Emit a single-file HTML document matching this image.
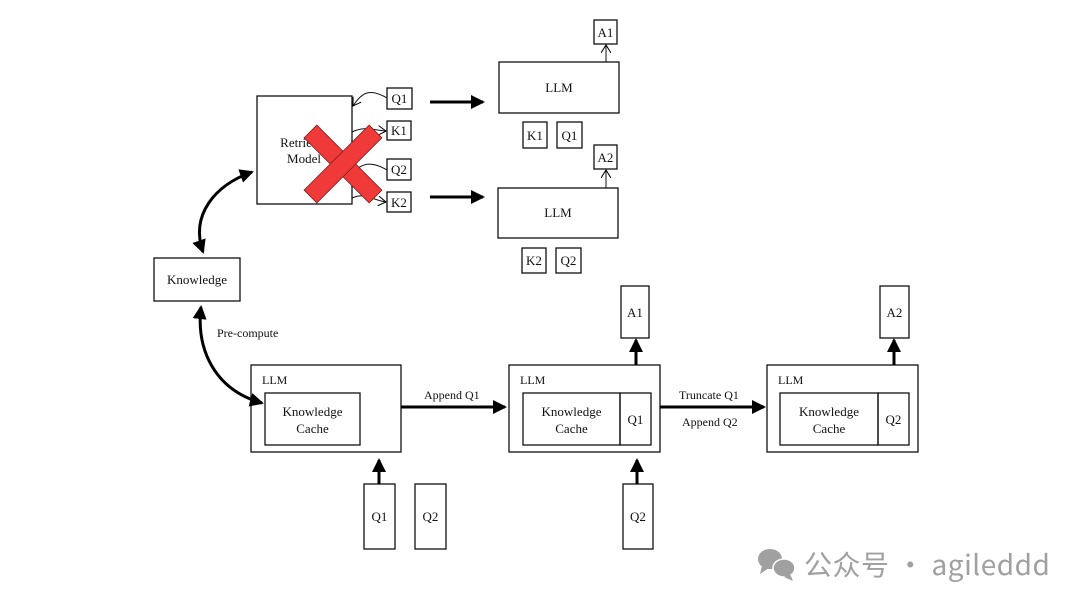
<!DOCTYPE html>
<html><head><meta charset="utf-8"><style>
html,body{margin:0;padding:0;background:#fff;}
svg{display:block;}
text{font-family:"Liberation Serif",serif;fill:#111;}
</style></head><body>
<svg width="1080" height="608" viewBox="0 0 1080 608" xmlns="http://www.w3.org/2000/svg">
<defs>
<marker id="ahb" markerWidth="14" markerHeight="14" refX="12" refY="7" orient="auto-start-reverse" markerUnits="userSpaceOnUse">
<path d="M0,0 L14,7 L0,14 z" fill="#000"/></marker>
<marker id="oa" markerWidth="10" markerHeight="10" refX="8" refY="5" orient="auto" markerUnits="userSpaceOnUse">
<path d="M0,0 L8,5 L0,10" fill="none" stroke="#000" stroke-width="1"/></marker>
</defs>
<g fill="none" stroke="#111" stroke-width="1.3">
<rect x="257" y="96" width="95" height="108"/>
<rect x="387" y="88" width="25" height="21"/>
<rect x="387" y="121" width="24" height="19"/>
<rect x="387" y="159" width="24" height="21"/>
<rect x="387" y="192" width="24" height="20"/>
<rect x="499" y="62" width="120" height="51"/>
<rect x="594" y="20" width="23" height="24"/>
<rect x="523" y="122" width="24" height="26"/>
<rect x="557" y="122" width="25" height="26"/>
<rect x="498" y="188" width="120" height="50"/>
<rect x="594" y="145" width="23" height="24"/>
<rect x="522" y="248" width="24" height="25"/>
<rect x="556" y="248" width="25" height="25"/>
<rect x="154" y="258" width="86" height="43"/>
<rect x="251" y="365" width="150" height="87"/>
<rect x="265" y="393" width="95" height="52"/>
<rect x="509" y="365" width="151" height="87"/>
<rect x="523" y="393" width="97" height="52"/>
<rect x="620" y="393" width="31" height="52"/>
<rect x="621" y="286" width="28" height="52"/>
<rect x="767" y="365" width="151" height="87"/>
<rect x="780" y="393" width="98" height="52"/>
<rect x="878" y="393" width="31" height="52"/>
<rect x="880" y="286" width="29" height="52"/>
<rect x="364" y="484" width="31" height="65"/>
<rect x="415" y="484" width="31" height="65"/>
<rect x="623" y="484" width="30" height="65"/>
</g>
<g fill="none" stroke="#111" stroke-width="1">
<path d="M387,98 C370,88 362,92 353,106" marker-end="url(#oa)"/>
<path d="M352,132 C365,126 372,130 386,131" marker-end="url(#oa)"/>
<path d="M387,170 C370,160 362,164 353,172" marker-end="url(#oa)"/>
<path d="M352,198 C365,192 372,200 386,202" marker-end="url(#oa)"/>
<path d="M606,62 L606,45" marker-end="url(#oa)"/>
<path d="M606,188 L606,170" marker-end="url(#oa)"/>
</g>
<g fill="none" stroke="#000" stroke-width="3">
<path d="M430,102 L483,102" marker-end="url(#ahb)"/>
<path d="M430,197 L483,197" marker-end="url(#ahb)"/>
<path d="M203,252 C190,215 215,185 252,172" marker-start="url(#ahb)" marker-end="url(#ahb)"/>
<path d="M201,307 C196,350 215,390 262,403" marker-start="url(#ahb)" marker-end="url(#ahb)"/>
<path d="M401,407 L505,407" marker-end="url(#ahb)"/>
<path d="M660,407 L764,407" marker-end="url(#ahb)"/>
<path d="M636,365 L636,340" marker-end="url(#ahb)"/>
<path d="M894,365 L894,340" marker-end="url(#ahb)"/>
<path d="M379,484 L379,460" marker-end="url(#ahb)"/>
<path d="M637,484 L637,460" marker-end="url(#ahb)"/>
</g>
<g font-size="13" text-anchor="middle">
<text x="304" y="147">Retrieval</text>
<text x="304" y="163">Model</text>
<text x="399.5" y="103">Q1</text>
<text x="399" y="135">K1</text>
<text x="399" y="174">Q2</text>
<text x="399" y="207">K2</text>
<text x="559" y="92">LLM</text>
<text x="558" y="217">LLM</text>
<text x="605.5" y="37">A1</text>
<text x="605.5" y="162">A2</text>
<text x="535" y="140">K1</text>
<text x="569.5" y="140">Q1</text>
<text x="534" y="265">K2</text>
<text x="568.5" y="265">Q2</text>
<text x="197" y="284">Knowledge</text>
<text x="312.5" y="416">Knowledge</text>
<text x="312.5" y="433">Cache</text>
<text x="571.5" y="416">Knowledge</text>
<text x="571.5" y="433">Cache</text>
<text x="829" y="416">Knowledge</text>
<text x="829" y="433">Cache</text>
<text x="635.5" y="424">Q1</text>
<text x="893.5" y="424">Q2</text>
<text x="635" y="317">A1</text>
<text x="894.5" y="317">A2</text>
<text x="379.5" y="521">Q1</text>
<text x="430.5" y="521">Q2</text>
<text x="638" y="521">Q2</text>
</g>
<g font-size="12">
<text x="217" y="337">Pre-compute</text>
<text x="262" y="384">LLM</text>
<text x="520" y="384">LLM</text>
<text x="778" y="384">LLM</text>
<text x="424" y="399">Append Q1</text>
<text x="679" y="399">Truncate Q1</text>
<text x="682" y="426">Append Q2</text>
</g>
<g transform="translate(343,164) rotate(45)">
<rect x="-46" y="-9" width="92" height="18" fill="#f03a3a" stroke="#7a1a1a" stroke-width="0.8"/>
<rect x="-9" y="-46" width="18" height="92" fill="#f03a3a" stroke="#7a1a1a" stroke-width="0.8"/>
<rect x="-8.5" y="-8.5" width="17" height="17" fill="#f03a3a"/>
</g>
<g fill="#a0a0a0">
<ellipse cx="770" cy="559" rx="12" ry="10"/>
<path d="M762,566 L760,574 L769,568 z"/>
<ellipse cx="784" cy="568" rx="11" ry="9" stroke="#fff" stroke-width="1.5"/>
<path d="M790,574 L793,581 L784,577 z"/>
</g>
<text x="804" y="575" font-size="28" letter-spacing="0.5" style="font-family:'Noto Sans CJK SC',sans-serif;fill:#a0a0a0;">公众号 · agileddd</text>
</svg>
</body></html>
